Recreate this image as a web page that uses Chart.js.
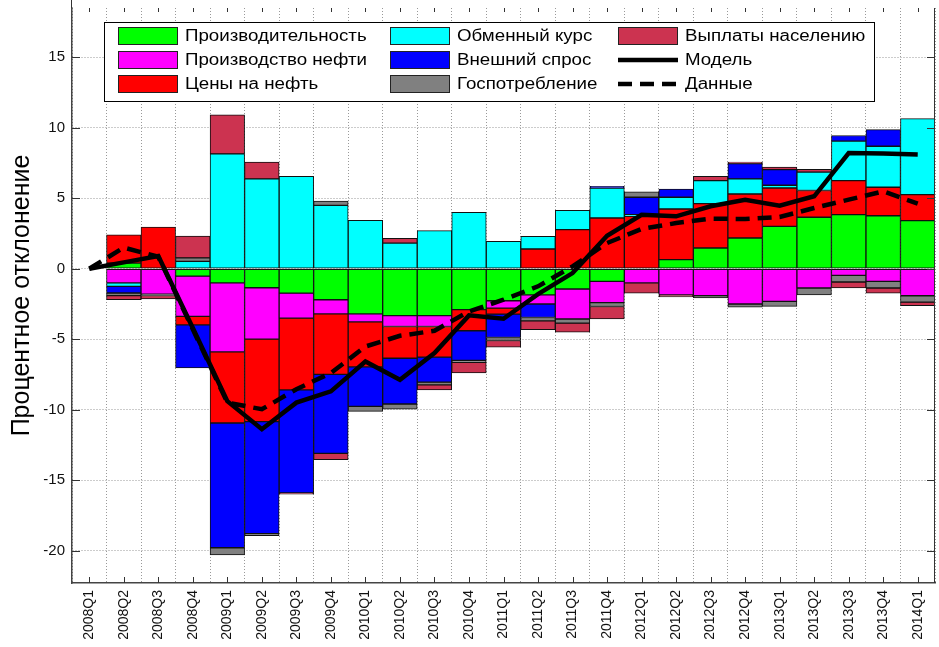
<!DOCTYPE html>
<html>
<head>
<meta charset="utf-8">
<script src="https://cdn.jsdelivr.net/npm/chart.js@4.4.1/dist/chart.umd.min.js"></script>
<style>
  html, body { margin: 0; padding: 0; background: #fff; }
  #wrap { width: 939px; height: 647px; }
</style>
</head>
<body>
<div id="wrap"><canvas id="myChart" width="939" height="647"></canvas></div>
<script>
// Quarters on the x axis
const quarters = ['2008Q1', '2008Q2', '2008Q3', '2008Q4', '2009Q1', '2009Q2', '2009Q3', '2009Q4',
    '2010Q1', '2010Q2', '2010Q3', '2010Q4', '2011Q1', '2011Q2', '2011Q3', '2011Q4',
    '2012Q1', '2012Q2', '2012Q3', '2012Q4', '2013Q1', '2013Q2', '2013Q3', '2013Q4', '2014Q1'];

// Contributions (percent deviation)
const productivity  = [0, 0.4, 0, -0.53, -1.0, -1.35, -1.73, -2.2, -3.2, -3.33, -3.33, -2.9, -2.27, -1.85, -1.44, -0.9, 0, 0.64, 1.47, 2.18, 3.0, 3.65, 3.84, 3.76, 3.41];
const oilOutput     = [0, -1.0, -1.8, -2.85, -4.9, -3.65, -1.77, -1.0, -0.57, -0.77, -0.77, 0, -0.53, -0.65, -2.13, -1.5, -1.0, -1.85, -1.92, -2.5, -2.32, -1.37, -0.47, -0.9, -1.92];
const oilPrice      = [0, 2.0, 2.95, -0.6, -5.05, -5.85, -5.1, -4.3, -3.2, -2.25, -2.17, -1.5, -0.42, 1.4, 2.77, 3.6, 3.72, 3.6, 3.15, 3.12, 2.73, 1.9, 2.41, 2.02, 1.85];
const exchangeRate  = [0, -0.25, 0, 0.52, 8.15, 6.37, 6.55, 4.5, 3.43, 1.82, 2.7, 4.0, 1.94, 0.9, 1.37, 2.13, 0.12, 0.83, 1.63, 1.07, 0.19, 1.3, 2.8, 2.91, 5.39];
const foreignDemand = [0, -0.47, 0, -3.05, -8.85, -7.95, -7.3, -5.6, -2.8, -3.25, -1.78, -2.1, -1.66, -0.96, 0, 0.12, 1.23, 0.59, 0, 1.09, 1.11, 0, 0.4, 1.18, 0];
const govSpending   = [0, -0.19, -0.1, 0.25, -0.5, -0.15, 0, 0.3, -0.35, -0.36, -0.19, -0.15, -0.21, -0.24, -0.29, -0.28, 0.38, 0, -0.16, -0.22, -0.35, -0.48, -0.47, -0.47, -0.45];
const payments      = [0, -0.28, -0.25, 1.55, 2.77, 1.2, -0.1, -0.45, 0, 0.33, -0.36, -0.75, -0.47, -0.63, -0.64, -0.89, -0.73, -0.15, 0.3, 0.1, 0.19, 0.2, -0.43, -0.36, -0.26];

// Model and actual data lines
const model  = [0, 0.45, 0.9, -4.2, -9.4, -11.39, -9.5, -8.7, -6.58, -7.88, -5.99, -3.31, -3.55, -1.8, -0.31, 2.34, 3.83, 3.72, 4.43, 4.9, 4.47, 5.14, 8.21, 8.17, 8.1];
const actual = [0, 1.5, 0.85, -4.3, -9.5, -9.97, -8.55, -7.4, -5.52, -4.76, -4.4, -3.03, -2.2, -1.25, 0.17, 1.82, 2.82, 3.24, 3.55, 3.53, 3.67, 4.31, 4.9, 5.49, 4.62];

// Y axis ticks
const yTicks = [-20, -15, -10, -5, 0, 5, 10, 15];

const FONT = "'Liberation Sans', Arial, sans-serif";

function barSet(label, data, color) {
    return {
        type: 'bar',
        label: label,
        data: data,
        backgroundColor: color,
        borderColor: '#111',
        borderWidth: 1,
        borderSkipped: false,
        barPercentage: 1,
        categoryPercentage: 1,
        order: 1
    };
}

// Legend drawn inside the plot, three columns, filled column by column
const legendBox = {
    draw(chart) {
        const ctx = chart.ctx;
        const box = { left: 104, top: 22, right: 874, bottom: 101 };
        const cols = [118, 390, 618];
        const rows = [36, 60, 84];
        ctx.save();
        ctx.fillStyle = '#fff';
        ctx.fillRect(box.left, box.top, box.right - box.left, box.bottom - box.top);
        ctx.strokeStyle = '#000';
        ctx.lineWidth = 1;
        ctx.strokeRect(box.left + 0.5, box.top + 0.5, box.right - box.left, box.bottom - box.top);
        chart.data.datasets.forEach(function(ds, i) {
            const x = cols[Math.floor(i / 3)];
            const y = rows[i % 3];
            if (ds.type === 'bar') {
                ctx.fillStyle = ds.backgroundColor;
                ctx.fillRect(x, y - 9, 60, 18);
                ctx.strokeStyle = '#222';
                ctx.lineWidth = 1;
                ctx.strokeRect(x + 0.5, y - 8.5, 59, 17);
            } else {
                ctx.strokeStyle = '#000';
                ctx.lineWidth = 4.5;
                ctx.setLineDash(ds.borderDash || []);
                ctx.beginPath();
                ctx.moveTo(x, y);
                ctx.lineTo(x + 60, y);
                ctx.stroke();
                ctx.setLineDash([]);
            }
            ctx.save();
            ctx.translate(x + 67, y + 1);
            ctx.scale(1.17, 1);
            ctx.fillStyle = '#000';
            ctx.font = '16px ' + FONT;
            ctx.textBaseline = 'middle';
            ctx.fillText(ds.label, 0, 0);
            ctx.restore();
        });
        ctx.restore();
    }
};

// Inner tick marks and right frame line
const frame = {
    id: 'frame',
    afterDraw(chart) {
        const ctx = chart.ctx;
        const a = chart.chartArea;
        const xs = chart.scales.x, ys = chart.scales.y;
        ctx.save();
        ctx.strokeStyle = '#333';
        ctx.lineWidth = 1;
        ctx.beginPath();
        ctx.moveTo(a.right - 0.5, a.top);
        ctx.lineTo(a.right - 0.5, a.bottom);
        ctx.moveTo(a.left - 0.5, 0);
        ctx.lineTo(a.left - 0.5, a.top);
        yTicks.forEach(function(v) {
            const py = Math.round(ys.getPixelForValue(v)) + 0.5;
            ctx.moveTo(a.left, py); ctx.lineTo(a.left + 8, py);
            ctx.moveTo(a.right, py); ctx.lineTo(a.right - 8, py);
        });
        quarters.forEach(function(q, i) {
            const px = Math.round(xs.getPixelForValue(i)) + 0.5;
            ctx.moveTo(px, a.bottom); ctx.lineTo(px, a.bottom - 6);
            ctx.moveTo(px, a.top); ctx.lineTo(px, a.top + 4);
        });
        ctx.stroke();
        ctx.restore();
        legendBox.draw(chart);
    }
};

const ctx = document.getElementById('myChart').getContext('2d');
const myChart = new Chart(ctx, {
    data: {
        labels: quarters,
        datasets: [
            barSet('Производительность', productivity, '#00FF00'),
            barSet('Производство нефти', oilOutput, '#FF00FF'),
            barSet('Цены на нефть', oilPrice, '#FF0000'),
            barSet('Обменный курс', exchangeRate, '#00FFFF'),
            barSet('Внешний спрос', foreignDemand, '#0000FF'),
            barSet('Госпотребление', govSpending, '#808080'),
            barSet('Выплаты населению', payments, '#CC3350'),
            {
                type: 'line', label: 'Модель', data: model, stack: 'model',
                borderColor: '#000', borderWidth: 4.5, pointRadius: 0, tension: 0, fill: false, order: 0
            },
            {
                type: 'line', label: 'Данные', data: actual, stack: 'data',
                borderColor: '#000', borderWidth: 4.5, borderDash: [14, 8], pointRadius: 0, tension: 0, fill: false, order: 0
            }
        ]
    },
    options: {
        responsive: false,
        animation: false,
        layout: { padding: { top: 8, right: 4, left: 0, bottom: 0 } },
        plugins: {
            legend: { display: false },
            tooltip: { enabled: false }
        },
        scales: {
            x: {
                stacked: true,
                grid: { color: '#999', drawTicks: false },
                border: { color: '#444', width: 1.5, dash: [1, 2] },
                ticks: {
                    autoSkip: false, maxRotation: 90, minRotation: 90, padding: 7,
                    color: '#111', font: { family: FONT, size: 14 }
                },
                afterFit(scale) {
                    scale.height = 64;
                    scale.paddingLeft = 0;
                    scale.paddingRight = 0;
                }
            },
            y: {
                stacked: true,
                min: -22.3,
                max: 18.5,
                grid: { color: '#999', drawTicks: false },
                border: { color: '#444', width: 1.5, dash: [1, 2] },
                ticks: { padding: 7, color: '#111', font: { family: FONT, size: 15 } },
                afterBuildTicks(scale) { scale.ticks = yTicks.map(v => ({ value: v })); },
                title: {
                    display: true, text: 'Процентное отклонение', color: '#000',
                    font: { family: FONT, size: 25 }, padding: { top: 7, bottom: 0 }
                },
                afterFit(scale) {
                    scale.width = 72;
                    scale.paddingTop = 0;
                    scale.paddingBottom = 0;
                }
            }
        }
    },
    plugins: [frame]
});
</script>
</body>
</html>
